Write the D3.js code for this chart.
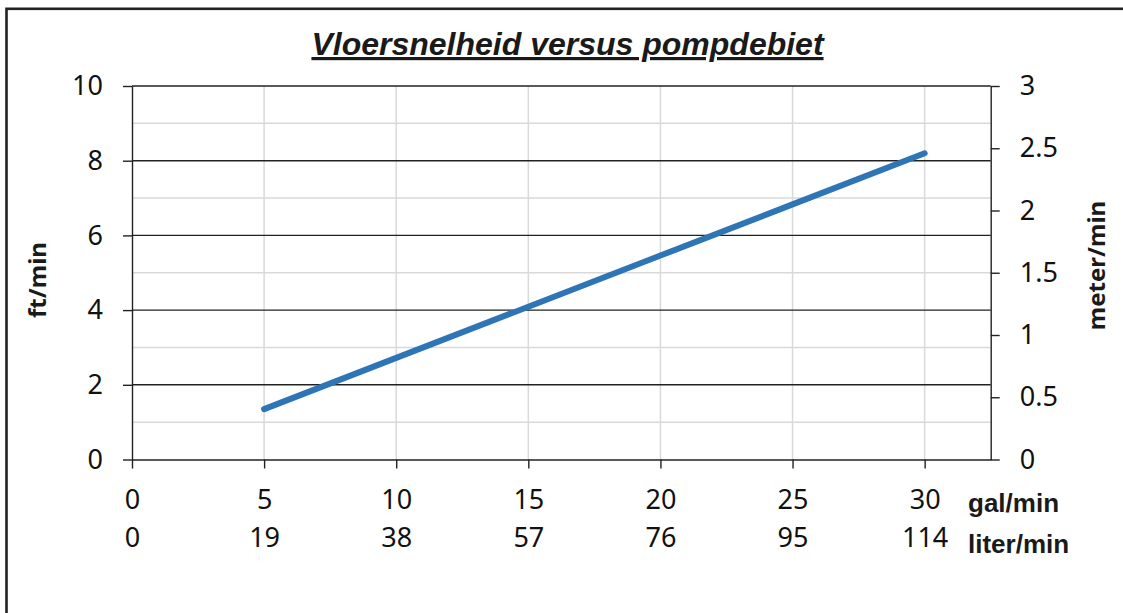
<!DOCTYPE html>
<html>
<head>
<meta charset="utf-8">
<script src="https://cdn.jsdelivr.net/npm/d3@7"></script>
<style>
  body { margin: 0; background: #fff; }
  svg { display: block; }
</style>
</head>
<body>
<script>
// data
const galPerMin = [5, 10, 15, 20, 25, 30];
const ftPerMin = [1.35, 2.72, 4.09, 5.46, 6.83, 8.2];
const galTicks = [0, 5, 10, 15, 20, 25, 30];
const literLabels = ["0", "19", "38", "57", "76", "95", "114"];
const ftTicks = [0, 2, 4, 6, 8, 10];
const ftMinor = [1, 3, 5, 7, 9];
const meterTicks = [0, 0.5, 1, 1.5, 2, 2.5, 3];

const width = 1123, height = 613;
const plotL = 132, plotR = 990.7, plotT = 86, plotB = 459.5;
const numFont = "'Noto Sans', sans-serif";

const svg = d3.select("body").append("svg")
    .attr("width", width)
    .attr("height", height);

svg.append("rect")
    .attr("x", 6.5).attr("y", 8.8)
    .attr("width", 1300).attr("height", 800)
    .attr("fill", "none")
    .attr("stroke", "#222")
    .attr("stroke-width", 2.6);

const x = d3.scaleLinear().domain([0, 32.5]).range([plotL, plotR]);
const y = d3.scaleLinear().domain([0, 10]).range([plotB, plotT]);
const yR = d3.scaleLinear().domain([0, 3]).range([plotB, plotT]);

// grid
svg.append("g")
    .selectAll("line")
    .data(galTicks.slice(1))
    .join("line")
    .attr("x1", d => x(d)).attr("x2", d => x(d))
    .attr("y1", plotT).attr("y2", plotB)
    .attr("stroke", "#d9d9d9")
    .attr("stroke-width", 1.5);

svg.append("g")
    .selectAll("line")
    .data(ftMinor)
    .join("line")
    .attr("x1", plotL).attr("x2", plotR)
    .attr("y1", d => y(d)).attr("y2", d => y(d))
    .attr("stroke", "#d9d9d9")
    .attr("stroke-width", 1.5);

svg.append("g")
    .selectAll("line")
    .data(ftTicks.slice(1))
    .join("line")
    .attr("x1", plotL).attr("x2", plotR)
    .attr("y1", d => y(d)).attr("y2", d => y(d))
    .attr("stroke", "#222")
    .attr("stroke-width", 1.4);

function styleAxis(g) {
    g.selectAll("path, line").attr("stroke", "#222").attr("stroke-width", 1.4);
    g.selectAll("text")
        .attr("font-family", numFont)
        .attr("font-size", 27)
        .attr("fill", "#111");
}

svg.append("g")
    .attr("transform", `translate(${plotL},0)`)
    .call(d3.axisLeft(y).tickValues(ftTicks).tickSize(9).tickSizeOuter(0).tickPadding(20))
    .call(styleAxis);

svg.append("g")
    .attr("transform", `translate(${plotR},0)`)
    .call(d3.axisRight(yR).tickValues(meterTicks).tickSize(9).tickSizeOuter(0).tickPadding(20)
        .tickFormat(d3.format("~g")))
    .call(styleAxis);

svg.append("g")
    .attr("transform", `translate(0,${plotB})`)
    .call(d3.axisBottom(x).tickValues(galTicks).tickSize(9).tickSizeOuter(0).tickPadding(21))
    .call(styleAxis);

svg.append("g")
    .attr("transform", `translate(0,${plotB})`)
    .call(d3.axisBottom(x).tickValues(galTicks).tickSize(0).tickPadding(68)
        .tickFormat((d, i) => literLabels[i]))
    .call(styleAxis)
    .call(g => g.select(".domain").remove());

// series
svg.append("path")
    .datum(galPerMin.map((g, i) => [g, ftPerMin[i]]))
    .attr("fill", "none")
    .attr("stroke", "#2e75b6")
    .attr("stroke-width", 6)
    .attr("stroke-linecap", "round")
    .attr("d", d3.line().x(d => x(d[0])).y(d => y(d[1])));

// titles
svg.append("text")
    .attr("x", 567.5).attr("y", 55)
    .attr("text-anchor", "middle")
    .attr("font-family", "'Liberation Sans', Arial, sans-serif")
    .attr("font-size", 32)
    .attr("font-weight", "bold")
    .attr("font-style", "italic")
    .attr("text-decoration", "underline")
    .attr("fill", "#1a1a1a")
    .text("Vloersnelheid versus pompdebiet");

svg.append("text")
    .attr("transform", "translate(46,280) rotate(-90)")
    .attr("text-anchor", "middle")
    .attr("font-family", numFont)
    .attr("font-size", 24)
    .attr("font-weight", "bold")
    .attr("fill", "#1a1a1a")
    .text("ft/min");

svg.append("text")
    .attr("transform", "translate(1105,265.5) rotate(-90)")
    .attr("text-anchor", "middle")
    .attr("font-family", numFont)
    .attr("font-size", 24)
    .attr("font-weight", "bold")
    .attr("fill", "#1a1a1a")
    .text("meter/min");

svg.append("text")
    .attr("x", 968).attr("y", 512)
    .attr("font-family", "'Liberation Sans', Arial, sans-serif")
    .attr("font-size", 26)
    .attr("font-weight", "bold")
    .attr("fill", "#1a1a1a")
    .text("gal/min");

svg.append("text")
    .attr("x", 968).attr("y", 553)
    .attr("font-family", "'Liberation Sans', Arial, sans-serif")
    .attr("font-size", 26)
    .attr("font-weight", "bold")
    .attr("fill", "#1a1a1a")
    .text("liter/min");
</script>
</body>
</html>
